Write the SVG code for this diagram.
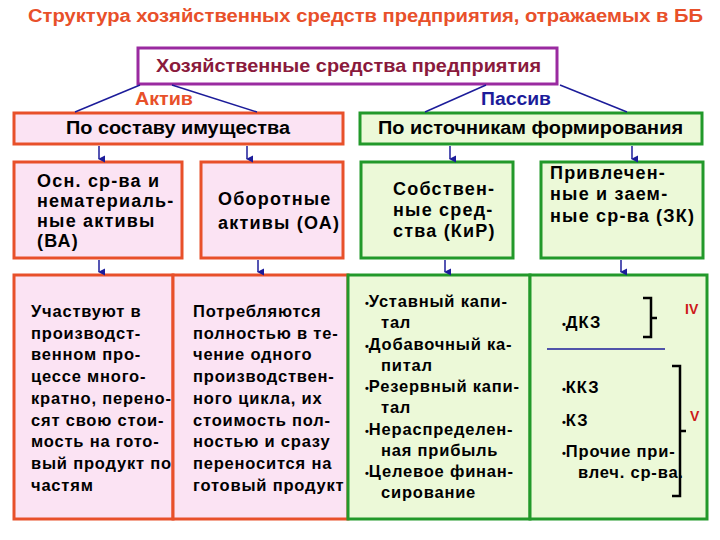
<svg xmlns="http://www.w3.org/2000/svg" width="720" height="540" viewBox="0 0 720 540">
<defs>
<marker id="arr" markerWidth="8" markerHeight="8" refX="4" refY="7" orient="auto" markerUnits="userSpaceOnUse" viewBox="0 0 8 8">
<path d="M0.5,1 L7.5,1 L4,8 Z" fill="#1c1c9a"/>
</marker>
<style>
text{font-family:"Liberation Sans",Arial,sans-serif;font-weight:bold;fill:#000}
.title{fill:#e8502a;font-size:18px}
.top{fill:#8a1a3c;font-size:19px}
.hdr{font-size:18px}
.mid{font-size:18px;letter-spacing:1.2px}
.body{font-size:16.5px;letter-spacing:0.8px}
.or{fill:#fbe3f3;stroke:#e8502a;stroke-width:3}
.gr{fill:#ecf9d8;stroke:#22992a;stroke-width:3}
.conn line{stroke:#1c1c9a;stroke-width:1.5}
.br{fill:none;stroke:#000;stroke-width:2.5}
.rn{fill:#cc1a1a;font-size:14px}
.b{font-size:11px;letter-spacing:0}
</style>
</defs>
<rect width="720" height="540" fill="#fff"/>
<text class="title" x="28" y="22" textLength="675" lengthAdjust="spacingAndGlyphs">Структура хозяйственных средств предприятия, отражаемых в ББ</text>

<g id="root">
<rect x="138" y="48" width="419" height="36" fill="#fff" stroke="#9a2aa0" stroke-width="3"/>
<text class="top" x="156" y="72" textLength="385" lengthAdjust="spacingAndGlyphs">Хозяйственные средства предприятия</text>
</g>

<g id="label-aktiv"><text x="135" y="105" class="hdr" style="fill:#e8502a" textLength="58" lengthAdjust="spacingAndGlyphs">Актив</text></g>
<g id="label-passiv"><text x="481" y="105" class="hdr" style="fill:#1c1c9a" textLength="70" lengthAdjust="spacingAndGlyphs">Пассив</text></g>

<g id="sostav">
<rect class="or" x="14" y="113" width="329" height="31"/>
<text class="hdr" x="66" y="134" textLength="224" lengthAdjust="spacingAndGlyphs">По составу имущества</text>
</g>
<g id="istochniki">
<rect class="gr" x="360" y="113" width="342" height="31"/>
<text class="hdr" x="378" y="134" textLength="305" lengthAdjust="spacingAndGlyphs">По источникам формирования</text>
</g>

<g id="va">
<rect class="or" x="14" y="162" width="168" height="96"/>
<text class="mid"><tspan x="37" y="187">Осн. ср-ва и</tspan><tspan x="37" y="207">нематериаль-</tspan><tspan x="37" y="227">ные активы</tspan><tspan x="37" y="247">(ВА)</tspan></text>
</g>
<g id="oa">
<rect class="or" x="201" y="162" width="142" height="96"/>
<text class="mid"><tspan x="218" y="205">Оборотные</tspan><tspan x="218" y="229">активы (ОА)</tspan></text>
</g>
<g id="kir">
<rect class="gr" x="361" y="162" width="152" height="96"/>
<text class="mid"><tspan x="393" y="195">Собствен-</tspan><tspan x="393" y="216">ные сред-</tspan><tspan x="393" y="237">ства (КиР)</tspan></text>
</g>
<g id="zk">
<rect class="gr" x="541" y="162" width="162" height="96"/>
<text class="mid"><tspan x="550" y="179">Привлечен-</tspan><tspan x="550" y="200">ные и заем-</tspan><tspan x="550" y="222">ные ср-ва (ЗК)</tspan></text>
</g>

<g id="va-desc">
<rect class="or" x="14" y="275" width="159" height="244"/>
<text class="body"><tspan x="31" y="317">Участвуют в</tspan><tspan x="31" y="338.7">производст-</tspan><tspan x="31" y="360.4">венном про-</tspan><tspan x="31" y="382.1">цессе много-</tspan><tspan x="31" y="403.8">кратно, перено-</tspan><tspan x="31" y="425.5">сят свою стои-</tspan><tspan x="31" y="447.2">мость на гото-</tspan><tspan x="31" y="468.9">вый продукт по</tspan><tspan x="31" y="490.6">частям</tspan></text>
</g>
<g id="oa-desc">
<rect class="or" x="173" y="275" width="175" height="244"/>
<text class="body"><tspan x="193" y="317">Потребляются</tspan><tspan x="193" y="338.7">полностью в те-</tspan><tspan x="193" y="360.4">чение одного</tspan><tspan x="193" y="382.1">производствен-</tspan><tspan x="193" y="403.8">ного цикла, их</tspan><tspan x="193" y="425.5">стоимость пол-</tspan><tspan x="193" y="447.2">ностью и сразу</tspan><tspan x="193" y="468.9">переносится на</tspan><tspan x="193" y="490.6">готовый продукт</tspan></text>
</g>
<g id="kir-desc">
<rect class="gr" x="348" y="275" width="182" height="244"/>
<text class="body"><tspan x="365" y="307"><tspan class="b">•</tspan>Уставный капи-</tspan><tspan x="381" y="328">тал</tspan><tspan x="365" y="349.5"><tspan class="b">•</tspan>Добавочный ка-</tspan><tspan x="381" y="370.5">питал</tspan><tspan x="365" y="392"><tspan class="b">•</tspan>Резервный капи-</tspan><tspan x="381" y="413">тал</tspan><tspan x="365" y="434.5"><tspan class="b">•</tspan>Нераспределен-</tspan><tspan x="381" y="455.5">ная прибыль</tspan><tspan x="365" y="477"><tspan class="b">•</tspan>Целевое финан-</tspan><tspan x="381" y="498">сирование</tspan></text>
</g>
<g id="zk-desc">
<rect class="gr" x="530" y="275" width="177" height="244"/>
<text class="body"><tspan x="562" y="328"><tspan class="b">•</tspan>ДКЗ</tspan><tspan x="562" y="393"><tspan class="b">•</tspan>ККЗ</tspan><tspan x="562" y="426"><tspan class="b">•</tspan>КЗ</tspan><tspan x="562" y="457"><tspan class="b">•</tspan>Прочие при-</tspan><tspan x="578" y="478">влеч. ср-ва.</tspan></text>
<line x1="547" y1="349" x2="665" y2="349" stroke="#1c1c9a" stroke-width="1.5"/>
<path class="br" d="M643,298 H651 V337 H643 M651,318 H657"/>
<text class="rn" x="685" y="314">IV</text>
<path class="br" d="M672,366 H680 V496 H672 M680,431 H686"/>
<text class="rn" x="690" y="421">V</text>
</g>

<g id="connectors" class="conn">
<line x1="140" y1="85" x2="75" y2="112"/>
<line x1="172" y1="85" x2="257" y2="112"/>
<line x1="486" y1="85" x2="425" y2="112"/>
<line x1="560" y1="85" x2="627" y2="112"/>
<line x1="99" y1="146" x2="99" y2="159" marker-end="url(#arr)"/>
<line x1="247" y1="146" x2="247" y2="159" marker-end="url(#arr)"/>
<line x1="450" y1="146" x2="450" y2="159" marker-end="url(#arr)"/>
<line x1="632" y1="146" x2="632" y2="159" marker-end="url(#arr)"/>
<line x1="99" y1="260" x2="99" y2="272" marker-end="url(#arr)"/>
<line x1="258" y1="260" x2="258" y2="272" marker-end="url(#arr)"/>
<line x1="445" y1="260" x2="445" y2="272" marker-end="url(#arr)"/>
<line x1="621" y1="260" x2="621" y2="272" marker-end="url(#arr)"/>
</g>
</svg>
